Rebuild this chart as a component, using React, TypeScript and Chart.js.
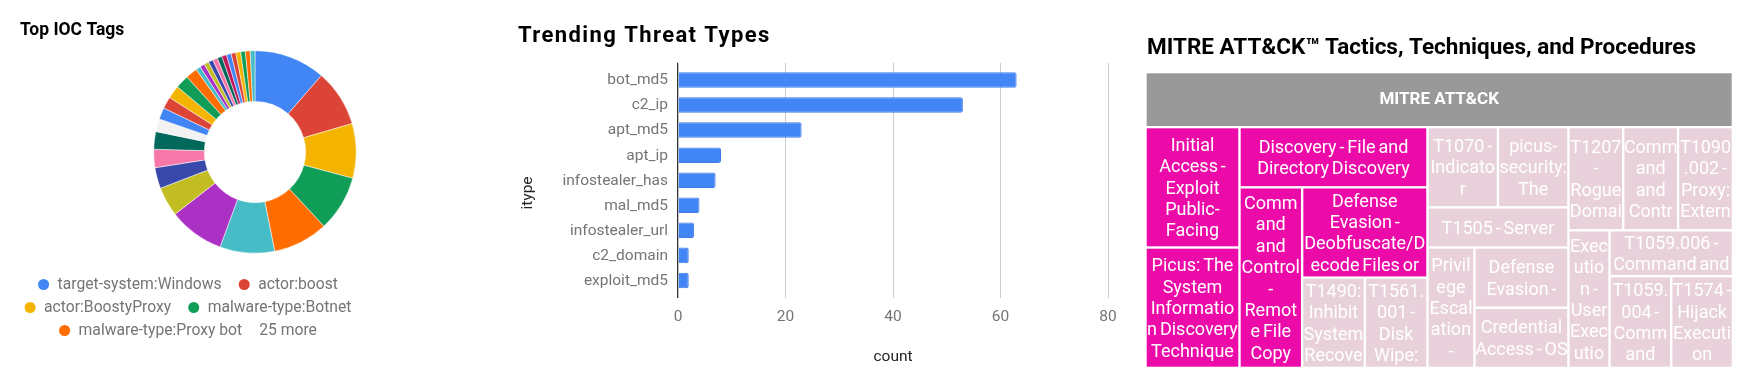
import React, { useEffect, useRef } from 'react';
import { Chart, registerables } from 'chart.js';
Chart.register(...registerables);

const FONT = 'Roboto, "Liberation Sans", sans-serif';

// ---------------- Top IOC Tags (doughnut) ----------------
const tagLabels = [
  'target-system:Windows', 'actor:boost', 'actor:BoostyProxy', 'malware-type:Botnet', 'malware-type:Proxy bot',
  'tag 6', 'tag 7', 'tag 8', 'tag 9', 'tag 10', 'tag 11', 'tag 12', 'tag 13', 'tag 14', 'tag 15',
  'tag 16', 'tag 17', 'tag 18', 'tag 19', 'tag 20', 'tag 21', 'tag 22', 'tag 23', 'tag 24', 'tag 25',
  'tag 26', 'tag 27', 'tag 28', 'tag 29', 'tag 30',
];
const tagValues = [
  15, 12, 11.5, 11.75, 11.6, 11.5, 11.7, 6.2, 4.4, 3.85, 3.7, 2.7, 2.45, 2.5, 2.75, 2.85, 2.45,
  1, 1, 1, 1, 1, 1, 1, 1, 1, 1, 1, 1, 1,
];
const tagColors = [
  '#4285f4', '#db4437', '#f4b400', '#0f9d58', '#ff6d00', '#46bdc6', '#ab30c4', '#c2bd22', '#3949ab', '#f777a8',
  '#00695c', '#f2f2f2', '#4285f4', '#db4437', '#f4b400', '#0f9d58', '#ff6d00', '#46bdc6', '#ab30c4', '#c2bd22',
  '#3949ab', '#f777a8', '#00695c', '#c2185b', '#4285f4', '#db4437', '#f4b400', '#0f9d58', '#ff6d00', '#46bdc6',
];
const legendShown = 5;

// ---------------- Trending Threat Types (bar) ----------------
const threatTypes = ['bot_md5', 'c2_ip', 'apt_md5', 'apt_ip', 'infostealer_has', 'mal_md5', 'infostealer_url', 'c2_domain', 'exploit_md5'];
const threatCounts = [63, 53, 23, 8, 7, 4, 3, 2, 2];
const countTicks = [0, 20, 40, 60, 80];

// ---------------- MITRE ATT&CK treemap ----------------
const tmRoot = 'MITRE ATT&CK';
const tmLabels = [
  'Initial Access - Exploit Public-Facing Application',
  'Picus: The System Information Discovery Technique Explained',
  'Discovery - File and Directory Discovery',
  'Command and Control - Remote File Copy',
  'Defense Evasion - Deobfuscate/Decode Files or Information',
  'T1490: Inhibit System Recovery',
  'T1561.001 - Disk Wipe: Disk Content Wipe',
  'T1070 - Indicator Removal on Host',
  'picus-security: The Complete Guide',
  'T1505 - Server Software Component',
  'Privilege Escalation - Process Injection',
  'Defense Evasion - Masquerading',
  'Credential Access - OS Credential Dumping',
  'T1207 - Rogue Domain Controller',
  'Command and Control - Application Layer Protocol',
  'T1090.002 - Proxy: External Proxy',
  'Execution - User Execution',
  'T1059.006 - Command and Scripting Interpreter: Python',
  'T1059.004 - Command and Scripting Interpreter: Unix Shell',
  'T1574 - Hijack Execution Flow',
];
const tmValues = [2, 2, 2, 2, 2, 1, 1, 1, 1, 1, 1, 1, 1, 1, 1, 1, 1, 1, 1, 1];
const tmGroups: any[] = [
  [0, 1],
  [2, [3, [4, [5, 6]]]],
  [[7, 8], [9, [10, [11, 12]]]],
  [[13, 14, 15], [16, [17, [18, 19]]]],
];
const tmMinColor = [232, 209, 219];
const tmMaxColor = [236, 10, 168];

// ---------------- helpers ----------------
function nodeValue(n: any): number {
  return typeof n === 'number' ? tmValues[n] : n.reduce((s: number, c: any) => s + nodeValue(c), 0);
}

function layoutNode(node: any, x0: number, y0: number, x1: number, y1: number, xs: any, ys: any, out: any[]) {
  if (typeof node === 'number') { out[node] = { x0, y0, x1, y1 }; return; }
  const vals = node.map(nodeValue);
  const total = vals.reduce((a: number, b: number) => a + b, 0);
  const wPx = Math.abs(xs.getPixelForValue(x1) - xs.getPixelForValue(x0));
  const hPx = Math.abs(ys.getPixelForValue(y1) - ys.getPixelForValue(y0));
  let acc = 0;
  node.forEach((child: any, i: number) => {
    const a = acc / total; acc += vals[i]; const b = acc / total;
    if (wPx >= hPx) layoutNode(child, x0 + (x1 - x0) * a, y0, x0 + (x1 - x0) * b, y1, xs, ys, out);
    else layoutNode(child, x0, y0 + (y1 - y0) * a, x1, y0 + (y1 - y0) * b, xs, ys, out);
  });
}

function tokenize(text: string) {
  const toks: { t: string; sp: boolean }[] = [];
  text.split(' ').forEach((word, wi) => {
    const parts = word.length > 1 ? word.split(/(?<=-)(?=.)/) : [word];
    parts.forEach((p, pi) => toks.push({ t: p, sp: wi > 0 && pi === 0 }));
  });
  return toks;
}

const WORD_TIGHTEN = 1.6;

function textW(ctx: CanvasRenderingContext2D, s: string) {
  const spaces = (s.match(/ /g) || []).length;
  return ctx.measureText(s).width - spaces * WORD_TIGHTEN;
}

function wrapText(ctx: CanvasRenderingContext2D, text: string, maxW: number): string[] {
  const fits = (s: string) => textW(ctx, s) <= maxW;
  const lines: string[] = [];
  let cur = '';
  for (const tok of tokenize(text)) {
    const cand = cur ? cur + (tok.sp ? ' ' : '') + tok.t : tok.t;
    if (fits(cand)) { cur = cand; continue; }
    if (cur) { lines.push(cur); cur = ''; }
    let w = tok.t;
    while (!fits(w) && w.length > 1) {
      let i = 1;
      while (i < w.length && fits(w.slice(0, i + 1))) i++;
      lines.push(w.slice(0, i));
      w = w.slice(i);
    }
    cur = w;
  }
  if (cur) lines.push(cur);
  return lines;
}

function mix(a: number[], b: number[], t: number) {
  const c = a.map((v, i) => Math.round(v + (b[i] - v) * t));
  return `rgb(${c[0]},${c[1]},${c[2]})`;
}

// ---------------- plugins ----------------
const doughnutDecor = {
  id: 'doughnutDecor',
  afterDraw(chart: any) {
    const ctx = chart.ctx as CanvasRenderingContext2D;
    ctx.save();
    ctx.fillStyle = '#000';
    ctx.font = `bold 17.5px ${FONT}`;
    ctx.textBaseline = 'alphabetic';
    ctx.textAlign = 'left';
    ctx.fillText('Top IOC Tags', 20, 35);

    const labels = chart.data.labels as string[];
    const colors = chart.data.datasets[0].backgroundColor as string[];
    const items: { text: string; color: string | null }[] = [];
    for (let i = 0; i < legendShown; i++) items.push({ text: labels[i], color: colors[i] });
    items.push({ text: `${labels.length - legendShown} more`, color: null });
    ctx.font = `15.7px ${FONT}`;
    const R = 5.5, G1 = 8.5, GAP = 17, MAXW = 345, CX = 188, Y0 = 284.5, DY = 23;
    const widths = items.map(it => (it.color ? 2 * R + G1 : 0) + ctx.measureText(it.text).width);
    const rows: number[][] = [];
    let row: number[] = [], rw = 0;
    items.forEach((_, i) => {
      const add = (row.length ? GAP : 0) + widths[i];
      if (row.length && rw + add > MAXW) { rows.push(row); row = [i]; rw = widths[i]; }
      else { row.push(i); rw += add; }
    });
    if (row.length) rows.push(row);
    rows.forEach((r, ri) => {
      const tw = r.reduce((s, i, k) => s + widths[i] + (k ? GAP : 0), 0);
      let x = CX - tw / 2;
      const y = Y0 + ri * DY;
      r.forEach(i => {
        const it = items[i];
        if (it.color) {
          ctx.fillStyle = it.color;
          ctx.beginPath(); ctx.arc(x + R, y, R, 0, Math.PI * 2); ctx.fill();
          x += 2 * R + G1;
        }
        ctx.fillStyle = '#757575';
        ctx.textBaseline = 'middle';
        ctx.fillText(it.text, x, y + 0.5);
        x += ctx.measureText(it.text).width + GAP;
      });
    });
    ctx.restore();
  },
};

const barDecor = {
  id: 'barDecor',
  afterDraw(chart: any) {
    const ctx = chart.ctx as CanvasRenderingContext2D;
    const ca = chart.chartArea;
    const ys = chart.scales.y;
    ctx.save();
    ctx.fillStyle = '#000';
    ctx.font = `bold 22px ${FONT}`;
    ctx.textAlign = 'left';
    ctx.textBaseline = 'alphabetic';
    (ctx as any).letterSpacing = '1.4px';
    ctx.fillText('Trending Threat Types', 28, 42.3);
    (ctx as any).letterSpacing = '0px';
    ctx.fillStyle = '#757575';
    ctx.font = `15.5px ${FONT}`;
    ctx.textAlign = 'right';
    ctx.textBaseline = 'middle';
    threatTypes.forEach((t, i) => ctx.fillText(t, ca.left - 10, ys.getPixelForValue(i) + 0.5));
    ctx.fillStyle = '#222';
    ctx.textAlign = 'center';
    ctx.fillText('count', (ca.left + ca.right) / 2, 357);
    ctx.translate(38, 193);
    ctx.rotate(-Math.PI / 2);
    ctx.fillText('itype', 0, 0);
    ctx.restore();
  },
};

const treemapDecor = {
  id: 'treemapDecor',
  afterDraw(chart: any) {
    const ctx = chart.ctx as CanvasRenderingContext2D;
    const xs = chart.scales.x, ys = chart.scales.y;
    const G = 2.4;
    ctx.save();
    ctx.fillStyle = '#000';
    ctx.font = `bold 22.5px ${FONT}`;
    ctx.textAlign = 'left';
    ctx.textBaseline = 'alphabetic';
    ctx.fillText('MITRE ATT\u0026CK\u2122 Tactics, Techniques, and Procedures', 17, 54);
    const hx0 = xs.getPixelForValue(0) + G / 2, hx1 = xs.getPixelForValue(1) - G / 2;
    const hy1 = ys.getPixelForValue(0) - 1.1, hy0 = hy1 - 52.7;
    ctx.fillStyle = '#999999';
    ctx.fillRect(hx0, hy0, hx1 - hx0, hy1 - hy0);
    ctx.fillStyle = '#fff';
    ctx.font = `bold 17px ${FONT}`;
    ctx.textAlign = 'center';
    ctx.textBaseline = 'middle';
    ctx.fillText(tmRoot, (hx0 + hx1) / 2, (hy0 + hy1) / 2 + 0.5);
    const rects: any[] = [];
    layoutNode(tmGroups, 0, 0, 1, 1, xs, ys, rects);
    const vmin = Math.min(...tmValues), vmax = Math.max(...tmValues);
    const FS = 18, LH = 21.4, SLACK = 1.4;
    ctx.font = `${FS}px ${FONT}`;
    rects.forEach((r, i) => {
      const px0 = xs.getPixelForValue(r.x0) + G / 2, px1 = xs.getPixelForValue(r.x1) - G / 2;
      const py0 = ys.getPixelForValue(r.y0) + G / 2, py1 = ys.getPixelForValue(r.y1) - G / 2;
      const t = vmax > vmin ? (tmValues[i] - vmin) / (vmax - vmin) : 1;
      ctx.fillStyle = mix(tmMinColor, tmMaxColor, t);
      ctx.fillRect(px0, py0, px1 - px0, py1 - py0);
      const w = px1 - px0, h = py1 - py0;
      const lines = wrapText(ctx, tmLabels[i], w + SLACK);
      const n = Math.min(lines.length, Math.max(1, Math.floor(h / LH)));
      const top = (py0 + py1) / 2 - (n * LH) / 2;
      ctx.save();
      ctx.beginPath(); ctx.rect(px0, py0, w, h); ctx.clip();
      ctx.fillStyle = '#fff';
      ctx.textAlign = 'center';
      ctx.textBaseline = 'alphabetic';
      (ctx as any).wordSpacing = `${-WORD_TIGHTEN}px`;
      for (let k = 0; k < n; k++) {
        ctx.fillText(lines[k], (px0 + px1) / 2, top + k * LH + 16.9);
      }
      (ctx as any).wordSpacing = '0px';
      ctx.restore();
    });
    ctx.restore();
  },
};

export default function App() {
  const c1 = useRef<HTMLCanvasElement>(null);
  const c2 = useRef<HTMLCanvasElement>(null);
  const c3 = useRef<HTMLCanvasElement>(null);

  useEffect(() => {
    const charts: Chart[] = [];
    charts.push(new Chart(c1.current!, {
      type: 'doughnut',
      data: {
        labels: tagLabels,
        datasets: [{ data: tagValues, backgroundColor: tagColors, borderColor: '#ffffff', borderWidth: 0.5 }],
      },
      options: {
        responsive: false,
        animation: false,
        cutout: '50%',
        layout: { padding: { left: 153.5, top: 50.5, right: 133.5, bottom: 132.5 } },
        plugins: { legend: { display: false }, tooltip: { enabled: false } },
      },
      plugins: [doughnutDecor],
    } as any));

    charts.push(new Chart(c2.current!, {
      type: 'bar',
      data: {
        datasets: [{
          data: threatCounts.map((v, i) => ({ x: v, y: i })),
          backgroundColor: '#4285f4',
          borderColor: '#3d7de8',
          borderWidth: 1,
          borderRadius: 2,
          borderSkipped: 'left',
          barPercentage: 0.62,
          categoryPercentage: 1,
        }],
      },
      options: {
        indexAxis: 'y',
        responsive: false,
        animation: false,
        layout: { padding: { left: 0, top: 62.7, right: 22, bottom: 48.3 } },
        plugins: { legend: { display: false }, tooltip: { enabled: false } },
        scales: {
          y: {
            type: 'linear',
            offset: false,
            min: -0.69,
            max: 8.69,
            reverse: true,
            afterBuildTicks: (s: any) => { s.ticks = threatTypes.map((_, i) => ({ value: i })); },
            afterFit: (s: any) => { s.width = 188; },
            ticks: { display: false },
            grid: { display: false, drawTicks: false },
            border: { display: false },
          },
          x: {
            type: 'linear',
            min: countTicks[0],
            max: countTicks[countTicks.length - 1],
            afterBuildTicks: (s: any) => { s.ticks = countTicks.map(v => ({ value: v })); },
            afterFit: (s: any) => { s.height = 40; },
            ticks: { color: '#757575', font: { family: FONT, size: 15.5 }, padding: 10 },
            grid: {
              drawTicks: false,
              color: (c: any) => (c.tick && c.tick.value === 0 ? '#333333' : '#cccccc'),
              lineWidth: (c: any) => (c.tick && c.tick.value === 0 ? 1.3 : 1),
            },
            border: { display: false },
          },
        },
      },
      plugins: [barDecor],
    } as any));

    charts.push(new Chart(c3.current!, {
      type: 'scatter',
      data: { datasets: [] },
      options: {
        responsive: false,
        animation: false,
        layout: { padding: { left: 15.5, top: 127.1, right: 18.1, bottom: 18.1 } },
        plugins: { legend: { display: false }, tooltip: { enabled: false } },
        scales: {
          x: { type: 'linear', min: 0, max: 1, display: false },
          y: { type: 'linear', min: 0, max: 1, reverse: true, display: false },
        },
      },
      plugins: [treemapDecor],
    } as any));

    return () => charts.forEach(c => c.destroy());
  }, []);

  return (
    <div style={{ position: 'absolute', left: 0, top: 0, width: 1751, height: 386, background: '#ffffff', overflow: 'hidden' }}>
      <canvas ref={c1} width={490} height={386} style={{ position: 'absolute', left: 0, top: 0, width: 490, height: 386 }} />
      <canvas ref={c2} width={640} height={386} style={{ position: 'absolute', left: 490, top: 0, width: 640, height: 386 }} />
      <canvas ref={c3} width={621} height={386} style={{ position: 'absolute', left: 1130, top: 0, width: 621, height: 386 }} />
    </div>
  );
}
